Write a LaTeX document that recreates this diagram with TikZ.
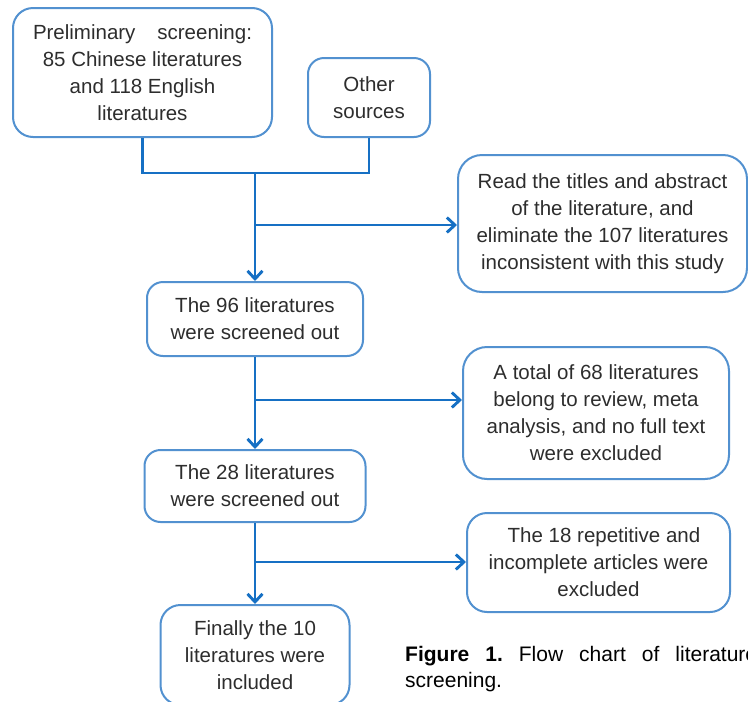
\documentclass[tikz,border=0pt]{standalone}
\usepackage{fontspec}
\setmainfont{Liberation Sans}
\usetikzlibrary{arrows.meta,calc}
\definecolor{linea}{RGB}{22,112,196}
\definecolor{bordo}{RGB}{82,145,208}
\definecolor{testo}{RGB}{45,45,45}
\tikzset{
>={Straight Barb[length=8pt,width=15pt]},
box node/.style={draw=bordo,line width=2pt,rounded corners=16pt,align=center,text=testo,inner sep=2pt},
flow line/.style={draw=linea,line width=2.9pt},
flow arrow/.style={flow line,->}}

\begin{document}
\begin{tikzpicture}[x=1pt,y=-1pt,font=\fontsize{20.5}{27}\selectfont]

\useasboundingbox (0,0) rectangle (748,702);
\clip (0,0) rectangle (748,702);

\node[box node,minimum width=259pt,minimum height=129pt,rounded corners=20pt] (prelim) at (142.5,72.5)
	{\makebox[219pt][s]{Preliminary\ screening:}\\85 Chinese literatures\\and 118 English\\literatures};
\node[box node,minimum width=122pt,minimum height=79pt] (other) at (369,97.5) {Other\\sources};
\node[box node,minimum width=289pt,minimum height=137pt,rounded corners=24pt] (read) at (602.5,223.5)
	{Read the titles and abstract\\of the literature, and\\eliminate the 107 literatures\\inconsistent with this study};
\node[box node,minimum width=216pt,minimum height=74pt] (s96) at (255,319) {The 96 literatures\\were screened out};
\node[box node,minimum width=266pt,minimum height=132pt,rounded corners=24pt] (total) at (596,413)
	{A total of 68 literatures\\belong to review, meta\\analysis, and no full text\\were excluded};
\node[box node,minimum width=221pt,minimum height=72pt] (s28) at (255,486) {The 28 literatures\\were screened out};
\node[box node,minimum width=263pt,minimum height=99pt,rounded corners=20pt] (rep) at (598.5,562.5)
	{\hspace*{11pt}The 18 repetitive and\\incomplete articles were\\excluded};
\node[box node,minimum width=189pt,minimum height=100pt,rounded corners=20pt] (final) at (255,655)
	{Finally the 10\\literatures were\\included};

% caption, cut at the right edge as in the figure
\node[anchor=base west,inner sep=0,align=left,font=\fontsize{21}{26}\selectfont] (caption) at (405,687)
	{\makebox[352pt][s]{\textbf{Figure\ 1.}\ Flow\ chart\ of\ literature}\\screening.};

\coordinate (join) at (255,173);
\coordinate (k1) at (255,225);
\coordinate (k2) at (255,400);
\coordinate (k3) at (255,562);

\draw[flow line] (prelim.south) -- (prelim.south |- join) -| (other.south);
\draw[flow arrow] (join) -- (s96.north);
\draw[flow arrow] (k1) -- (k1 -| read.west);
\draw[flow arrow] (s96.south) -- (s28.north);
\draw[flow arrow] (k2) -- (k2 -| total.west);
\draw[flow arrow] (s28.south) -- (final.north);
\draw[flow arrow] (k3) -- (k3 -| rep.west);
\end{tikzpicture}
\end{document}
